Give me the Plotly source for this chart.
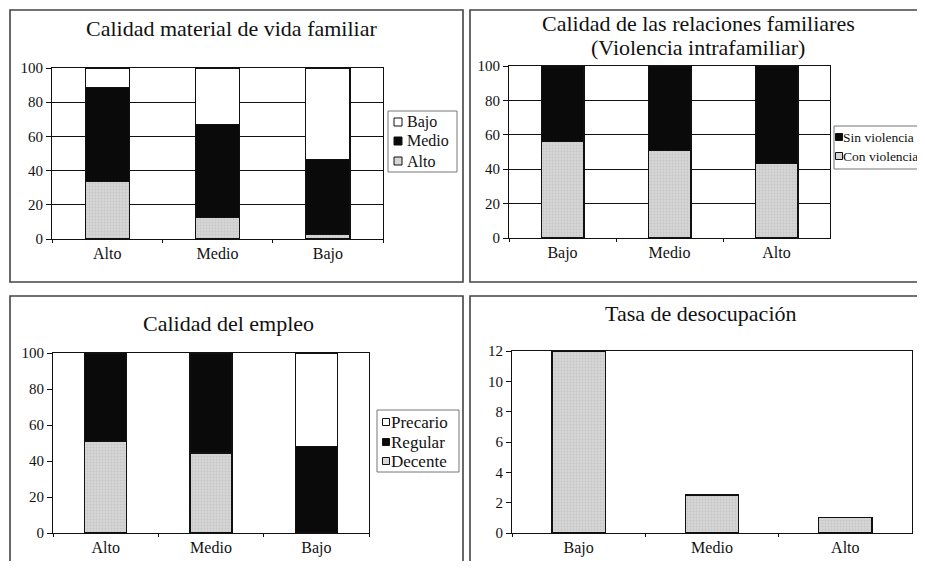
import plotly.graph_objects as go

# ---------------- data ----------------
cats1 = ["Alto", "Medio", "Bajo"]
p1_alto = [33.5, 12.5, 2.5]
p1_medio = [55.0, 54.5, 44.0]
p1_bajo = [11.5, 33.0, 53.5]

cats2 = ["Bajo", "Medio", "Alto"]
p2_con = [56.0, 51.0, 43.5]
p2_sin = [44.0, 49.0, 56.5]

cats3 = ["Alto", "Medio", "Bajo"]
p3_decente = [51.0, 44.5, 0]
p3_regular = [49.0, 55.5, 48.0]
p3_precario = [0, 0, 52.0]

cats4 = ["Bajo", "Medio", "Alto"]
p4_tasa = [12.0, 2.5, 1.0]

titles = ["Calidad material de vida familiar",
          "Calidad de las relaciones familiares",
          "(Violencia intrafamiliar)",
          "Calidad del empleo",
          "Tasa de desocupación"]

# ---------------- style ----------------
# The page body has an 8px margin on every side, so the figure is drawn 8px in
# from the top-left corner; positions below are in window pixels, shifted by OFF.
OFF = 8
W, H = 925 - 2 * OFF, 569 - 2 * OFF
FONT = "Times New Roman, Liberation Serif, serif"
GRAY = "#d6d6d6"
BLACK = "#0a0a0a"
pattern = dict(shape=".", fgcolor="#b4b4b4", bgcolor=GRAY, size=3, solidity=0.3)
line = dict(color="#111111", width=1.2)


def px(x):
    return (x - OFF) / W


def py(y):
    return 1 - (y - OFF) / H


fig = go.Figure()


def bar(x, y, name, color, xa, ya, pat=False):
    m = dict(color=color, line=line)
    if pat:
        m["pattern"] = pattern
    fig.add_trace(go.Bar(x=x, y=y, name=name, marker=m, xaxis=xa, yaxis=ya,
                         showlegend=False))


bar(cats1, p1_alto, "Alto", GRAY, "x", "y", True)
bar(cats1, p1_medio, "Medio", BLACK, "x", "y")
bar(cats1, p1_bajo, "Bajo", "white", "x", "y")

bar(cats2, p2_con, "Con violencia", GRAY, "x2", "y2", True)
bar(cats2, p2_sin, "Sin violencia", BLACK, "x2", "y2")

bar(cats3, p3_decente, "Decente", GRAY, "x3", "y3", True)
bar(cats3, p3_regular, "Regular", BLACK, "x3", "y3")
bar(cats3, p3_precario, "Precario", "white", "x3", "y3")

bar(cats4, p4_tasa, "Tasa de desocupación", GRAY, "x4", "y4", True)

axfont = dict(family=FONT, size=16, color="#111")
ytfont = dict(family=FONT, size=15, color="#111")


def xax(x0, x1, anchor):
    return dict(domain=[px(x0), px(x1)], anchor=anchor, type="category",
                showline=True, mirror=True, linecolor="#111", linewidth=1.2,
                ticks="outside", tickson="boundaries", ticklen=3, tickcolor="#111",
                showgrid=False, tickfont=axfont, fixedrange=True)


def yax(y0, y1, anchor, rng, dtick, grid):
    return dict(domain=[py(y1), py(y0)], anchor=anchor, range=rng, dtick=dtick,
                showline=True, mirror=True, linecolor="#111", linewidth=1.2,
                ticks="outside", ticklen=5, tickcolor="#111",
                showgrid=grid, gridcolor="#111", gridwidth=1.1,
                zeroline=False, tickfont=ytfont, fixedrange=True)


fig.update_layout(
    width=W, height=H,
    margin=dict(l=0, r=0, t=0, b=0, autoexpand=False),
    paper_bgcolor="white", plot_bgcolor="white",
    barmode="stack", bargap=0.6,
    font=dict(family=FONT, color="#111"),
    xaxis=xax(52, 383, "y"),
    yaxis=yax(68, 239, "x", [0, 100], 20, True),
    xaxis2=xax(509, 830, "y2"),
    yaxis2=yax(66, 238, "x2", [0, 100], 20, True),
    xaxis3=xax(53, 369, "y3"),
    yaxis3=yax(353, 533, "x3", [0, 100], 20, False),
    xaxis4=xax(512, 912, "y4"),
    yaxis4=yax(351, 533, "x4", [0, 12], 2, False),
    showlegend=False,
)

# panel frames
frames = [(10, 10, 463, 282), (470, 10, 940, 282), (10, 296, 463, 580), (470, 296, 940, 580)]
for x0, y0, x1, y1 in frames:
    fig.add_shape(type="rect", xref="paper", yref="paper",
                  x0=px(x0), x1=px(x1), y0=py(y1), y1=py(y0),
                  line=dict(color="#444", width=1.6), layer="below")

# titles
tpos = [(231, 29), (698, 24), (698, 48), (228, 323), (701, 313)]
for t, (x, y) in zip(titles, tpos):
    fig.add_annotation(text=t, x=px(x), y=py(y), xref="paper", yref="paper",
                       showarrow=False, xanchor="center", yanchor="middle",
                       font=dict(family=FONT, size=22, color="#111"))

# compact legends (box, swatches, labels) -- reversed stacking order like the original
legends = [
    dict(box=(388, 111, 457, 172), sw_x=398, sw=8, tx=405, rows=[122, 141, 161], fs=16,
         items=[("Bajo", "white"), ("Medio", BLACK), ("Alto", GRAY)]),
    dict(box=(834, 126, 940, 169), sw_x=839, sw=7, tx=841, rows=[137, 156], fs=13.5,
         items=[("Sin violencia", BLACK), ("Con violencia", GRAY)]),
    dict(box=(377, 410, 459, 472), sw_x=386, sw=7, tx=389, rows=[422, 442, 461], fs=17,
         items=[("Precario", "white"), ("Regular", BLACK), ("Decente", GRAY)]),
]
for lg in legends:
    bx0, by0, bx1, by1 = lg["box"]
    fig.add_shape(type="rect", xref="paper", yref="paper",
                  x0=px(bx0), x1=px(bx1), y0=py(by1), y1=py(by0),
                  line=dict(color="#777", width=1), fillcolor="white", layer="below")
    h = lg["sw"] / 2
    for (name, col), yy in zip(lg["items"], lg["rows"]):
        fig.add_shape(type="rect", xref="paper", yref="paper",
                      x0=px(lg["sw_x"] - h), x1=px(lg["sw_x"] + h),
                      y0=py(yy + h), y1=py(yy - h),
                      line=dict(color="#111", width=1), fillcolor=col)
        fig.add_annotation(text=name, x=px(lg["tx"]), y=py(yy), xref="paper", yref="paper",
                           showarrow=False, xanchor="left", yanchor="middle",
                           font=dict(family=FONT, size=lg["fs"], color="#111"))

fig.write_html("out.html")
